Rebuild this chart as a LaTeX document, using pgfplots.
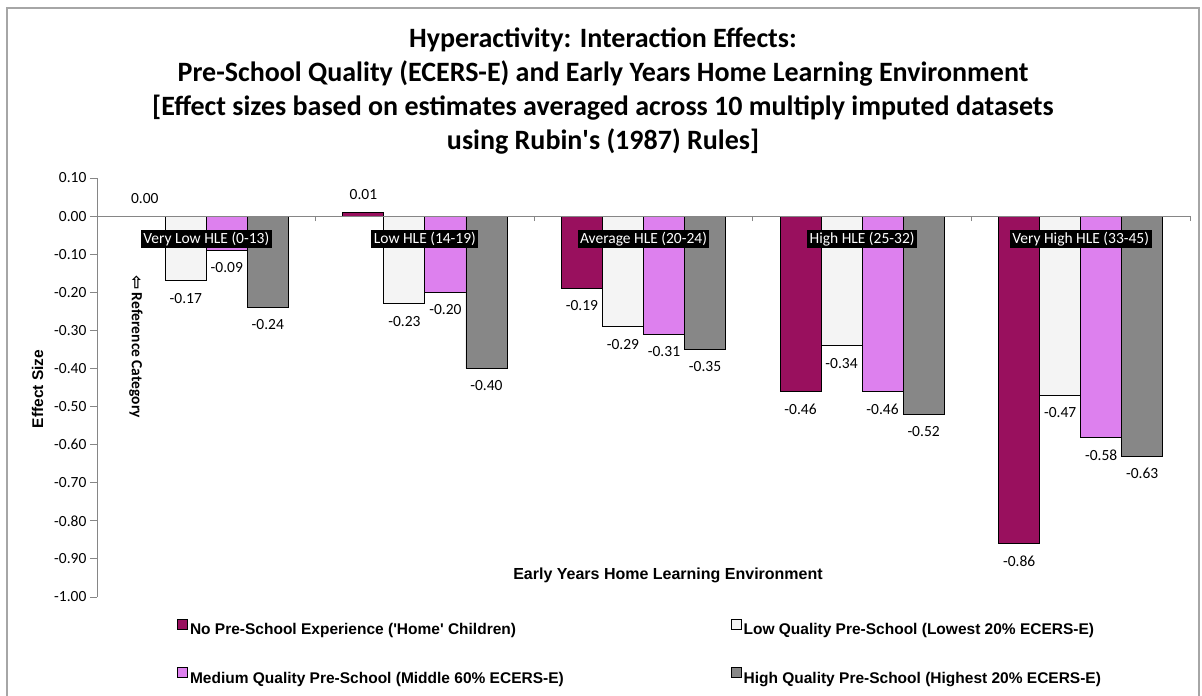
\documentclass[border=0pt]{standalone}
\usepackage{pgfplots}
\pgfplotsset{compat=1.18}
\usepackage{fontspec}
\setmainfont{Carlito}
\newfontfamily\calfont{Carlito}
\newfontfamily\arifont{Liberation Sans}
\newfontfamily\dejavu{DejaVu Sans}
\definecolor{nops}{RGB}{153,16,94}
\definecolor{lowq}{RGB}{244,244,244}
\definecolor{medq}{RGB}{221,128,238}
\definecolor{highq}{RGB}{135,135,135}
\definecolor{axgray}{RGB}{134,134,134}
\definecolor{framegray}{RGB}{166,166,166}
\pgfplotsset{sqleg/.style={legend image code/.code={\draw[##1, line width=0.8pt] (0pt,0.5pt) rectangle (10pt,10.5pt);}}}
\begin{document}
\begin{tikzpicture}[x=1pt,y=1pt]
\draw[framegray, line width=1.5pt] (-90,589) rectangle (1102,-110);
\begin{axis}[
  at={(0,0)}, anchor=south west,
  scale only axis, width=1093pt, height=419pt,
  xmin=-0.5, xmax=4.5, ymin=-1, ymax=0.1,
  axis x line=middle, axis y line=left,
  axis line style={draw=axgray, line width=0.9pt, -},
  ybar=0pt, bar width=0.1876,
  xtick={0,1,2,3,4},
  xticklabels={Very Low HLE (0-13), Low HLE (14-19), Average HLE (20-24), High HLE (25-32), Very High HLE (33-45)},
  major x tick style={draw=none},
  xtick align=outside,
  extra x ticks={-0.5,0.5,1.5,2.5,3.5,4.5},
  extra x tick labels={},
  extra x tick style={major x tick style={draw=axgray, line width=0.9pt}, major tick length=5pt, xticklabel style={fill=none, draw=none}},
  xticklabel style={fill=black, text=white, font=\calfont\fontsize{15.5}{18}\selectfont, inner xsep=2.5pt, inner ysep=2pt, anchor=north, yshift=-7pt},
  ytick={-1,-0.9,-0.8,-0.7,-0.6,-0.5,-0.4,-0.3,-0.2,-0.1,0,0.1},
  yticklabel style={font=\calfont\fontsize{15.5}{18}\selectfont, /pgf/number format/.cd, fixed, fixed zerofill, precision=2, assume math mode=true},
  ytick align=outside,
  major y tick style={draw=axgray, line width=0.9pt},
  major tick length=7pt,
  hide obscured y ticks=false,
  axis on top,
  nodes near coords={\pgfmathprintnumber[fixed, fixed zerofill, precision=2, assume math mode=true]{\pgfplotspointmeta}},
  nodes near coords align=vertical,
  every node near coord/.append style={font=\calfont\fontsize{15.5}{18}\selectfont, text=black, inner ysep=12pt},
  legend columns=2,
  legend cell align=left,
  legend style={at={(axis description cs:0.0732,-0.052)}, anchor=north west, draw=none, fill=none,
    font=\arifont\bfseries\fontsize{15.5}{18}\selectfont, inner sep=0pt, row sep=29pt,
    /tikz/every even column/.append style={column sep=165pt}},
]
\addplot[fill=nops, draw=black, line width=0.8pt, sqleg] coordinates {(0,0) (1,0.01) (2,-0.19) (3,-0.46) (4,-0.86)};
\addlegendentry{No Pre-School Experience (\textquotesingle Home\textquotesingle\ Children)}
\addplot[fill=lowq, draw=black, line width=0.8pt, sqleg] coordinates {(0,-0.17) (1,-0.23) (2,-0.29) (3,-0.34) (4,-0.47)};
\addlegendentry{Low Quality Pre-School (Lowest 20\% ECERS-E)}
\addplot[fill=medq, draw=black, line width=0.8pt, sqleg] coordinates {(0,-0.09) (1,-0.20) (2,-0.31) (3,-0.46) (4,-0.58)};
\addlegendentry{Medium Quality Pre-School (Middle 60\% ECERS-E)}
\addplot[fill=highq, draw=black, line width=0.8pt, sqleg] coordinates {(0,-0.24) (1,-0.40) (2,-0.35) (3,-0.52) (4,-0.63)};
\addlegendentry{High Quality Pre-School (Highest 20\% ECERS-E)}
\end{axis}
\node[align=center, font=\calfont\bfseries\fontsize{28}{34}\selectfont] at (506,506) {Hyperactivity:  Interaction Effects:\\ Pre-School Quality (ECERS-E) and Early Years Home Learning Environment\\ {[}Effect sizes based on estimates averaged across 10 multiply imputed datasets\\ using Rubin\textquotesingle s (1987) Rules{]}};
\node[rotate=90, font=\arifont\bfseries\fontsize{15.5}{18}\selectfont] at (-59.5,208) {Effect Size};
\node[font=\arifont\bfseries\fontsize{16}{18}\selectfont] at (571,22) {Early Years Home Learning Environment};
\node[rotate=-90, anchor=west, inner sep=0pt, font=\calfont\bfseries\fontsize{15.5}{18}\selectfont] at (39,322) {{\dejavu\bfseries\fontsize{17}{18}\selectfont ⇦}\ Reference Category};
\pgfresetboundingbox
\path[use as bounding box] (-97,-99) rectangle (1105,597);
\end{tikzpicture}
\end{document}
